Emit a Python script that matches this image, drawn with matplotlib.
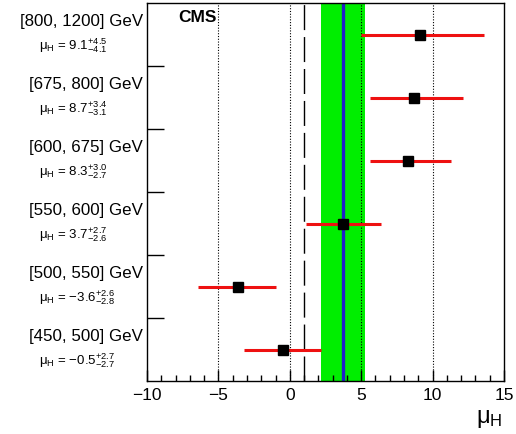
import matplotlib
matplotlib.use("Agg")
import matplotlib.pyplot as plt
from matplotlib.ticker import MultipleLocator

plt.rcParams['font.family'] = ['Liberation Sans', 'DejaVu Sans']
plt.rcParams['mathtext.fontset'] = 'custom'
plt.rcParams['mathtext.rm'] = 'Liberation Sans'
plt.rcParams['mathtext.it'] = 'Liberation Sans'
plt.rcParams['mathtext.bf'] = 'Liberation Sans:bold'

# bottom to top
categories = ["[450, 500] GeV", "[500, 550] GeV", "[550, 600] GeV",
              "[600, 675] GeV", "[675, 800] GeV", "[800, 1200] GeV"]
mu = [-0.5, -3.6, 3.7, 8.3, 8.7, 9.1]
err_up = [2.7, 2.6, 2.7, 3.0, 3.4, 4.5]
err_dn = [2.7, 2.8, 2.6, 2.7, 3.1, 4.1]
mu_lbl = ["\u22120.5", "\u22123.6", "3.7", "8.3", "8.7", "9.1"]
comb_mu = 3.7
comb_lo = 2.2
comb_hi = 5.3
sm_value = 1.0
grid_x = [-5, 0, 5, 10]

fig = plt.figure(figsize=(5.16, 4.35), dpi=100)
ax = fig.add_axes([147/516, 1-382/435, (504-147)/516, (382-4)/435])

ax.axvspan(comb_lo, comb_hi, color='#00ee00', lw=0, zorder=1)
ax.axvline(comb_mu, color='#2020c8', lw=2.4, zorder=2)
for gx in grid_x:
    ax.axvline(gx, color='black', lw=0.8, ls=(0, (1, 1.5)), zorder=1.5)
ax.axvline(sm_value, color='black', lw=1.0, ls=(0, (18, 5)), zorder=1.5)

ys = [i + 0.5 for i in range(len(categories))]
for y, m, u, d in zip(ys, mu, err_up, err_dn):
    ax.plot([m - d, m + u], [y, y], color='#ee1111', lw=2.2, zorder=3, solid_capstyle='butt')
    ax.plot([m], [y], marker='s', color='black', ms=7, zorder=4)

ax.set_xlim(-10, 15)
ax.set_ylim(0, len(categories))
ax.xaxis.set_major_locator(MultipleLocator(5))
ax.xaxis.set_minor_locator(MultipleLocator(1))
ax.set_yticks(range(1, len(categories)))
ax.set_yticklabels([])
ax.tick_params(axis='y', which='both', direction='in', length=12, width=1.0, left=True, right=False)
ax.tick_params(axis='x', which='major', direction='in', length=8, width=1.0, labelsize=12.5, top=False, pad=4)
ax.tick_params(axis='x', which='minor', direction='in', length=4, width=1.0, top=False)
ax.set_xticks([-10, -5, 0, 5, 10, 15])
ax.set_xticklabels(["\u221210", "\u22125", "0", "5", "10", "15"])
for s in ax.spines.values():
    s.set_linewidth(1.0)

ax.text(0.087, 0.963, "CMS", transform=ax.transAxes, fontsize=12.5,
        fontweight='bold', ha='left', va='center')
ax.text(0.995, -0.068, r"$\mathrm{\mu}_{\mathrm{H}}$", transform=ax.transAxes,
        fontsize=17, ha='right', va='top')

for y, cat, lbl, u, d in zip(ys, categories, mu_lbl, err_up, err_dn):
    ypix = 382 - (y / len(categories)) * 378
    fig.text(143/516, 1 - (ypix - 14)/435, cat, fontsize=12.2, ha='right', va='center')
    s = r"$\mathrm{\mu}_{\mathrm{H}}$" + " = " + lbl + "$^{+%.1f}_{-%.1f}$" % (u, d)
    fig.text(39/516, 1 - (ypix + 10)/435, s, fontsize=9.5, ha='left', va='center')

fig.savefig("out.png", dpi=100)
